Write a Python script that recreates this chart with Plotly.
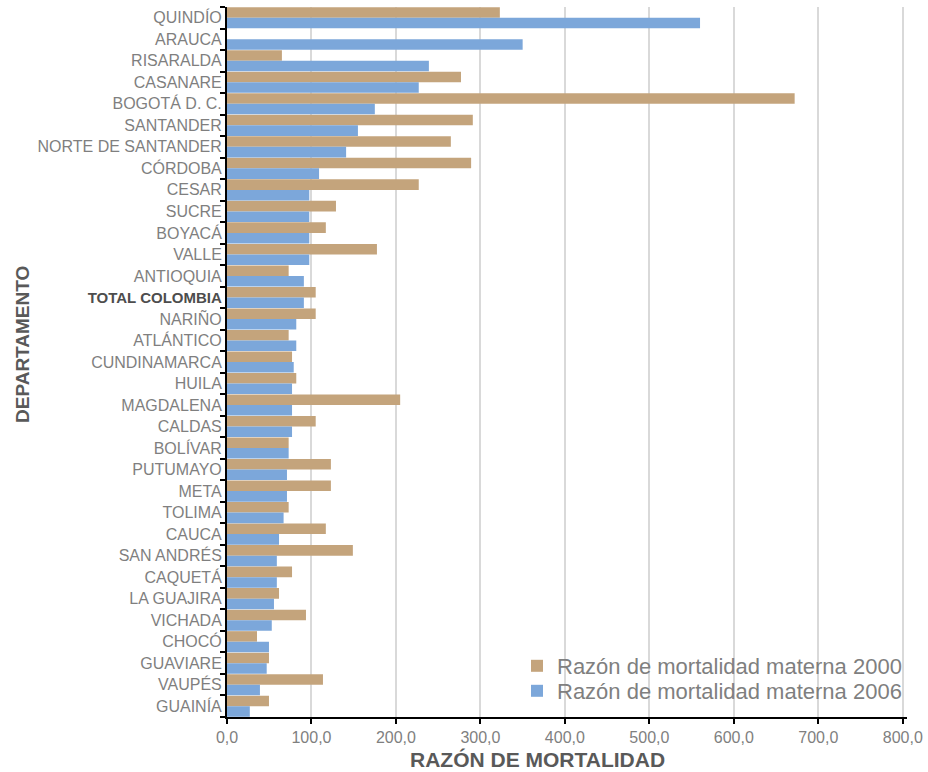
import plotly.graph_objects as go

departamentos = [
    "QUINDÍO", "ARAUCA", "RISARALDA", "CASANARE", "BOGOTÁ D. C.", "SANTANDER",
    "NORTE DE SANTANDER", "CÓRDOBA", "CESAR", "SUCRE", "BOYACÁ", "VALLE",
    "ANTIOQUIA", "TOTAL COLOMBIA", "NARIÑO", "ATLÁNTICO", "CUNDINAMARCA", "HUILA",
    "MAGDALENA", "CALDAS", "BOLÍVAR", "PUTUMAYO", "META", "TOLIMA", "CAUCA",
    "SAN ANDRÉS", "CAQUETÁ", "LA GUAJIRA", "VICHADA", "CHOCÓ", "GUAVIARE",
    "VAUPÉS", "GUAINÍA",
]

rmm_2000 = [
    323, 0, 65, 277, 672, 291,
    265, 289, 227, 129, 117, 177.5,
    73, 105, 105, 73, 77, 82,
    205, 105, 73, 123, 123, 73, 117,
    149, 77, 61.6, 93.5, 35.5, 49.7,
    113.6, 49.7,
]

rmm_2006 = [
    560, 350, 239, 227, 175, 155,
    141, 109, 97.4, 97.4, 97.4, 97.4,
    91, 91, 82, 82, 79, 77,
    77, 77, 73, 71, 71, 67, 61.6,
    59, 59, 55.6, 53, 49.7, 47,
    39, 27,
]

x_ticks = [0, 100, 200, 300, 400, 500, 600, 700, 800]

series_names = ["Razón de mortalidad materna 2000", "Razón de mortalidad materna 2006"]
colors = ["#C4A47C", "#7CA7DA"]
legend_ids = ["legend", "legend2"]

tick_text = [
    '<b><span style="color:#4d4d4d;font-size:15px">%s</span></b>' % d if d == "TOTAL COLOMBIA" else d
    for d in departamentos
]

fig = go.Figure()
for name, vals, col, lg in zip(series_names, [rmm_2000, rmm_2006], colors, legend_ids):
    fig.add_trace(go.Bar(
        y=departamentos, x=vals, orientation="h", name=name,
        marker=dict(color=col, line=dict(width=0)),
        legend=lg,
    ))

T, B = 7, 55
PH = 772 - T - B

def py(pix):
    return (772 - B - pix) / PH

legend_common = dict(
    x=1.0, xanchor="right", yanchor="middle",
    font=dict(size=22, color="#7f7f7f"),
    bgcolor="rgba(0,0,0,0)", itemwidth=30,
)

fig.update_layout(
    width=928, height=772,
    margin=dict(l=227, r=21, t=T, b=B),
    paper_bgcolor="white", plot_bgcolor="white",
    barmode="group", bargap=0.02, bargroupgap=0,
    separators=",.",
    font=dict(family="Liberation Sans, Arial, sans-serif", color="#7f7f7f"),
    showlegend=True,
    legend=dict(y=py(666), **legend_common),
    legend2=dict(y=py(691), **legend_common),
)

fig.update_xaxes(
    range=[0, 805], tickvals=x_ticks, tickformat=".1f",
    showgrid=True, gridcolor="#d9d9d9", gridwidth=1.5,
    showline=True, linecolor="black", linewidth=2,
    ticks="outside", ticklen=5, tickwidth=2, tickcolor="black",
    tickfont=dict(size=16, color="#7f7f7f"),
    zeroline=False, automargin=False,
)

fig.update_yaxes(
    categoryorder="array", categoryarray=departamentos,
    tickvals=departamentos, ticktext=tick_text,
    autorange="reversed",
    showline=True, linecolor="black", linewidth=2,
    ticks="outside", ticklen=5, tickwidth=2, tickcolor="black",
    tickson="boundaries",
    tickfont=dict(size=16, color="#7f7f7f"),
    showgrid=False, zeroline=False, automargin=False,
)

fig.add_annotation(
    text="<b>RAZÓN DE MORTALIDAD</b>", xref="paper", yref="paper",
    x=(537 - 227) / 680, y=py(760), xanchor="center", yanchor="middle",
    showarrow=False, font=dict(size=21, color="#595959"),
)
fig.add_annotation(
    text="<b>DEPARTAMENTO</b>", xref="paper", yref="paper",
    x=-(227 - 22) / 680, y=py(345), xanchor="center", yanchor="middle",
    textangle=-90, showarrow=False, font=dict(size=19, color="#595959"),
)

fig.write_html("out.html")
